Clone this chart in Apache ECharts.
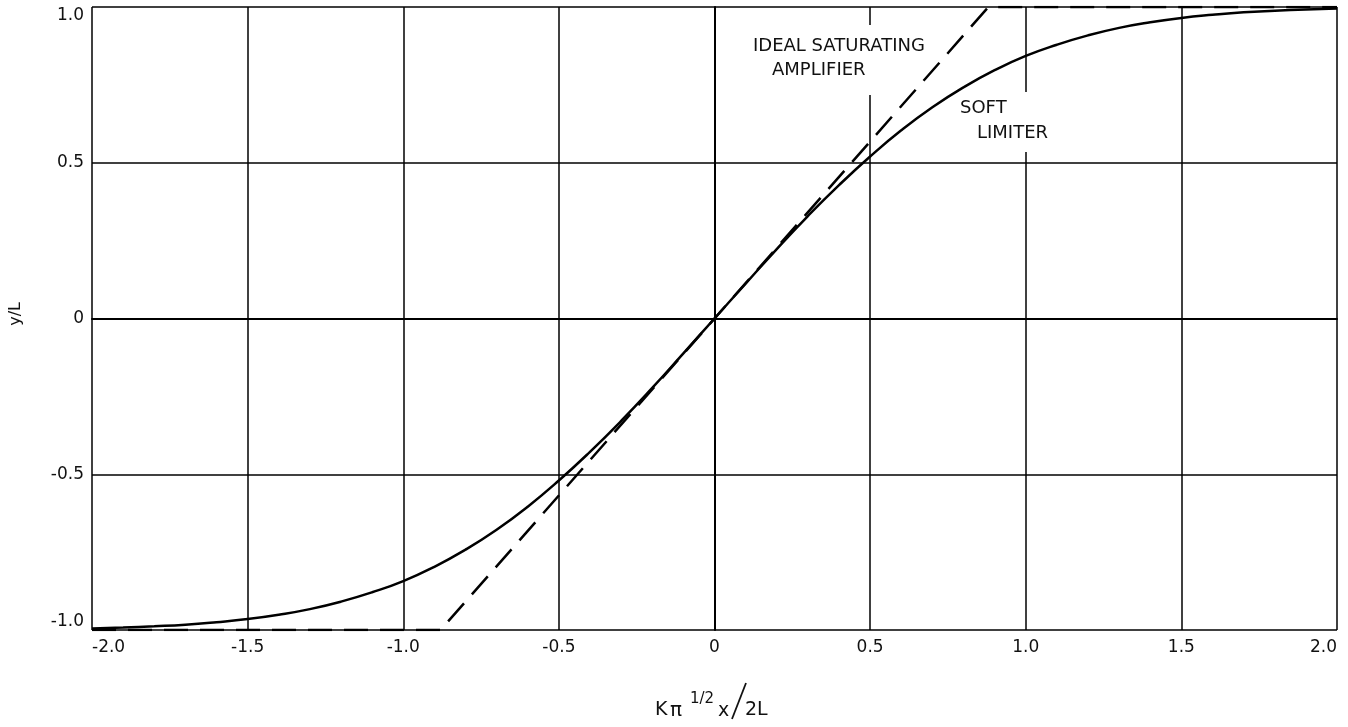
<!DOCTYPE html>
<html><head><meta charset="utf-8">
<script src="https://cdn.jsdelivr.net/npm/echarts@6/dist/echarts.min.js"></script>
<style>html,body{margin:0;padding:0;background:#fff}#c{width:1348px;height:727px}</style>
</head><body><div id="c"></div>
<script>
// Soft limiter curve
const softX = [-2.0,-1.9,-1.8,-1.7,-1.6,-1.5,-1.4,-1.3,-1.2,-1.1,-1.0,-0.9,-0.8,-0.7,-0.6,-0.5,-0.4,-0.3,-0.2,-0.1,0.0,0.1,0.2,0.3,0.4,0.5,0.6,0.7,0.8,0.9,1.0,1.1,1.2,1.3,1.4,1.5,1.6,1.7,1.8,1.9,2.0];
const softY = [-0.995,-0.992,-0.988,-0.983,-0.975,-0.965,-0.951,-0.933,-0.909,-0.879,-0.843,-0.797,-0.742,-0.678,-0.604,-0.52,-0.428,-0.329,-0.223,-0.112,0,0.112,0.223,0.329,0.428,0.52,0.604,0.678,0.742,0.797,0.843,0.879,0.909,0.933,0.951,0.965,0.975,0.983,0.988,0.992,0.995];
// Ideal saturating amplifier (piecewise linear)
const idealX = [-2.0,-0.88,0.88,2.0];
const idealY = [-1,-1,1,1];
const xTicks = [-2.0,-1.5,-1.0,-0.5,0,0.5,1.0,1.5,2.0];
const yTicks = [-1.0,-0.5,0,0.5,1.0];

const font = '"DejaVu Sans", sans-serif';
const chart = echarts.init(document.getElementById('c'));
const fmt = v => (v === 0 ? '0' : v.toFixed(1));
chart.setOption({
  animation: false,
  backgroundColor: '#fff',
  grid: {left: 92, right: 11, top: 7, bottom: 97},
  xAxis: {
    type: 'value', min: xTicks[0], max: xTicks[xTicks.length-1], interval: 0.5,
    axisLine: {show: true, lineStyle: {color: '#000', width: 2}},
    axisTick: {show: false},
    splitLine: {show: true, lineStyle: {color: '#000', width: 1.5}},
    axisLabel: {color: '#111', fontFamily: font, fontSize: 17, margin: 9, formatter: fmt,
      alignMinLabel: 'left', alignMaxLabel: 'right'}
  },
  yAxis: {
    type: 'value', min: yTicks[0], max: yTicks[yTicks.length-1], interval: 0.5,
    axisLine: {show: true, lineStyle: {color: '#000', width: 2}},
    axisTick: {show: false},
    splitLine: {show: true, lineStyle: {color: '#000', width: 1.5}},
    axisLabel: {color: '#111', fontFamily: font, fontSize: 17, margin: 8, formatter: fmt,
      verticalAlignMinLabel: 'bottom', verticalAlignMaxLabel: 'top'}
  },
  graphic: [
    {type: 'rect', z: 1, shape: {x: 866, y: 25, width: 8, height: 70}, style: {fill: '#fff'}},
    {type: 'rect', z: 1, shape: {x: 1022, y: 92, width: 8, height: 60}, style: {fill: '#fff'}},
    {type: 'text', z: 5, left: 753, top: 37, style: {text: 'IDEAL SATURATING', font: '18px ' + font, fill: '#111'}},
    {type: 'text', z: 5, left: 772, top: 61, style: {text: 'AMPLIFIER', font: '18px ' + font, fill: '#111'}},
    {type: 'text', z: 5, left: 960, top: 99, style: {text: 'SOFT', font: '18px ' + font, fill: '#111'}},
    {type: 'text', z: 5, left: 977, top: 124, style: {text: 'LIMITER', font: '18px ' + font, fill: '#111'}},
    {type: 'text', z: 5, left: 8, top: 302, rotation: Math.PI/2, style: {text: 'y/L', font: '16px ' + font, fill: '#111'}},
    {type: 'text', z: 5, left: 655, top: 701, style: {text: 'K', font: '19px ' + font, fill: '#111'}},
    {type: 'text', z: 5, left: 670, top: 701, style: {text: 'π', font: '20px ' + font, fill: '#111'}},
    {type: 'text', z: 5, left: 690, top: 692, style: {text: '1/2', font: '15px ' + font, fill: '#111'}},
    {type: 'text', z: 5, left: 718, top: 702, style: {text: 'x', font: '19px ' + font, fill: '#111'}},
    {type: 'line', z: 5, shape: {x1: 746, y1: 683, x2: 732, y2: 719}, style: {stroke: '#111', lineWidth: 1.8}},
    {type: 'text', z: 5, left: 745, top: 701, style: {text: '2L', font: '19px ' + font, fill: '#111'}}
  ],
  series: [
    {type: 'line', name: 'Soft limiter', z: 3, showSymbol: false, smooth: true,
     data: softX.map((x, i) => [x, softY[i]]),
     lineStyle: {color: '#000', width: 2.5}},
    {type: 'line', name: 'Ideal saturating amplifier', z: 3, showSymbol: false,
     data: idealX.map((x, i) => [x, idealY[i]]),
     lineStyle: {color: '#000', width: 2.5, type: [24, 12]}}
  ]
});
</script></body></html>
